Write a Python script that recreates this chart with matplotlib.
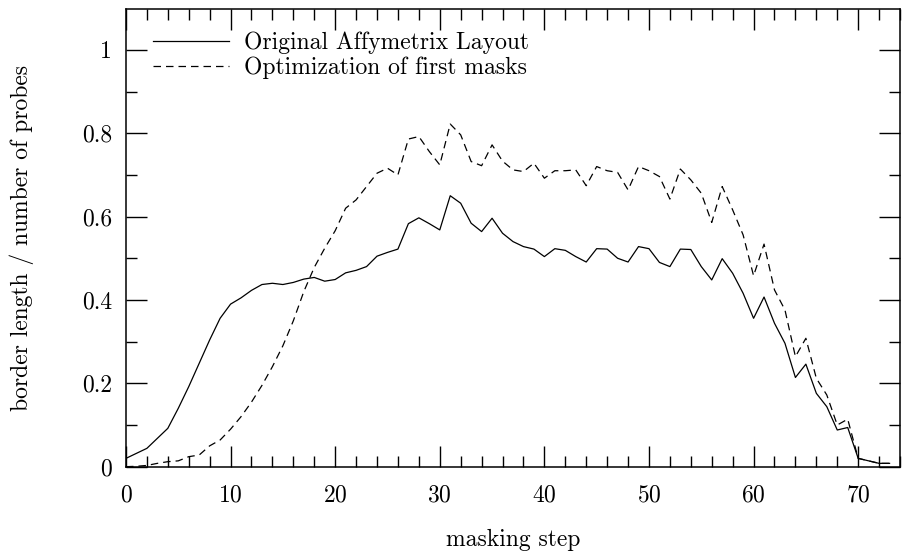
import numpy as np
import matplotlib
matplotlib.use('Agg')
import matplotlib.pyplot as plt
from matplotlib.ticker import MultipleLocator, FuncFormatter

plt.rcParams['font.family'] = 'serif'
plt.rcParams['font.serif'] = ['cmr10']
plt.rcParams['mathtext.fontset'] = 'cm'
plt.rcParams['axes.formatter.use_mathtext'] = True

# masking steps 0..73
steps = np.arange(74)

# Original Affymetrix layout
original = [0.020, 0.032, 0.044, 0.068, 0.092, 0.140, 0.192, 0.248, 0.304, 0.356,
            0.390, 0.405, 0.423, 0.437, 0.440, 0.437, 0.442, 0.450, 0.454, 0.445,
            0.449, 0.465, 0.471, 0.480, 0.505, 0.514, 0.522, 0.583, 0.597, 0.583,
            0.568, 0.650, 0.632, 0.584, 0.564, 0.596, 0.560, 0.540, 0.528, 0.522,
            0.504, 0.523, 0.519, 0.504, 0.491, 0.523, 0.522, 0.500, 0.491, 0.528,
            0.523, 0.490, 0.480, 0.522, 0.521, 0.480, 0.448, 0.499, 0.464, 0.416,
            0.356, 0.407, 0.344, 0.296, 0.214, 0.246, 0.176, 0.144, 0.088, 0.094,
            0.020, 0.014, 0.008, 0.008]

# optimization of first masks
optimized = [0.000, 0.001, 0.003, 0.008, 0.012, 0.014, 0.024, 0.028, 0.050, 0.064,
             0.090, 0.120, 0.155, 0.195, 0.240, 0.290, 0.350, 0.420, 0.478, 0.524,
             0.566, 0.620, 0.640, 0.672, 0.704, 0.716, 0.700, 0.786, 0.792, 0.756,
             0.724, 0.822, 0.796, 0.732, 0.722, 0.772, 0.733, 0.712, 0.708, 0.728,
             0.692, 0.710, 0.710, 0.712, 0.674, 0.720, 0.710, 0.706, 0.664, 0.720,
             0.710, 0.696, 0.642, 0.714, 0.688, 0.656, 0.586, 0.672, 0.616, 0.556,
             0.458, 0.534, 0.424, 0.376, 0.264, 0.308, 0.212, 0.172, 0.100, 0.114,
             0.020, 0.014, 0.008, 0.008]

fig = plt.figure(figsize=(9.03, 5.54), dpi=100)
ax = fig.add_axes([0.1395, 0.1576, 0.8572, 0.8262])

ax.plot(steps, original, color='black', linewidth=0.9, label='Original Affymetrix Layout')
ax.plot(steps, optimized, color='black', linewidth=0.9, linestyle=(0, (6, 4)),
        label='Optimization of first masks')

ax.set_xlim(0, 74)
ax.set_ylim(0, 1.098)
ax.xaxis.set_major_locator(MultipleLocator(10))
ax.xaxis.set_minor_locator(MultipleLocator(2))
ax.yaxis.set_major_locator(MultipleLocator(0.2))
ax.yaxis.set_minor_locator(MultipleLocator(0.1))
ax.yaxis.set_major_formatter(FuncFormatter(lambda v, p: '%g' % round(v, 3)))

ax.tick_params(which='both', direction='in', top=True, right=True, labelsize=17, width=1)
ax.tick_params(which='major', length=15)
ax.tick_params(which='minor', length=8)
ax.tick_params(axis='x', pad=13)
ax.tick_params(axis='y', pad=10)
for s in ax.spines.values():
    s.set_linewidth(1.1)

ax.set_xlabel('masking step', fontsize=17, va='center')
ax.xaxis.set_label_coords(0.5, -0.161)
ax.set_ylabel('border length / number of probes', fontsize=17, va='center')
ax.yaxis.set_label_coords(-0.134, 0.5)

leg = ax.legend(loc='upper left', bbox_to_anchor=(0.006, 1.0), frameon=False,
                fontsize=17, handlelength=3.2, handletextpad=0.65,
                labelspacing=0.12, borderaxespad=0.45, borderpad=0.5)

fig.savefig('out.png', dpi=100)
